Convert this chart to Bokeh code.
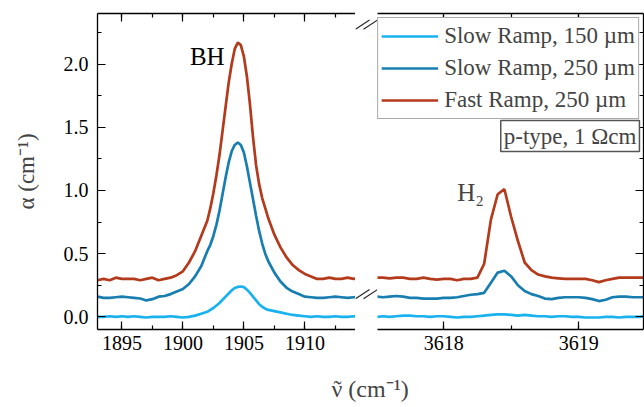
import numpy as np
from bokeh.plotting import figure
from bokeh.layouts import column, row
from bokeh.models import (Legend, LegendItem, Label, LinearAxis, SingleIntervalTicker,
                          NumeralTickFormatter, BasicTickFormatter, CustomJSTickFormatter, Range1d)
from bokeh.embed import file_html
from bokeh.resources import INLINE

FONT = "Liberation Serif"
C_LB = "#1ab2ee"
C_MB = "#187eb0"
C_RD = "#b33a1b"

# ---------------- data ----------------
series_names = ["Slow Ramp, 150 \u00b5m", "Slow Ramp, 250 \u00b5m", "Fast Ramp, 250 \u00b5m"]

bh_x = [1893.0, 1893.5, 1894.0, 1894.5, 1895.0, 1895.5, 1896.0, 1896.5, 1897.0, 1897.5,
        1898.0, 1898.5, 1899.0, 1899.5, 1900.0, 1900.5, 1901.0, 1901.5,
        1902.0, 1902.25, 1902.5, 1902.75, 1903.0, 1903.25, 1903.5, 1903.75, 1904.0, 1904.25,
        1904.5, 1904.75, 1905.0, 1905.25, 1905.5, 1905.75, 1906.0, 1906.25, 1906.5, 1906.75,
        1907.0, 1907.5, 1908.0, 1908.5, 1909.0, 1909.5, 1910.0, 1910.5, 1911.0, 1911.5,
        1912.0, 1912.5, 1913.0, 1913.5, 1914.0, 1914.5, 1915.0]
bh_slow150 = [0.0, 0.0, 0.005, 0.0, 0.005, 0.0, 0.005, 0.0, -0.005, 0.0,
              0.0, 0.0, 0.005, 0.0, -0.005, 0.0, 0.01, 0.025,
              0.04, 0.055, 0.07, 0.09, 0.11, 0.135, 0.16, 0.185, 0.21, 0.228,
              0.237, 0.24, 0.235, 0.215, 0.19, 0.16, 0.13, 0.10, 0.08, 0.065,
              0.055, 0.045, 0.035, 0.025, 0.015, 0.01, 0.005, 0.0, 0.005, 0.0,
              0.0, 0.005, 0.0, 0.0, 0.005, 0.0, 0.0]
bh_slow250 = [0.16, 0.15, 0.15, 0.155, 0.16, 0.155, 0.15, 0.145, 0.13, 0.14,
              0.16, 0.165, 0.18, 0.20, 0.22, 0.26, 0.32, 0.40,
              0.52, 0.57, 0.64, 0.73, 0.84, 0.97, 1.10, 1.22, 1.31, 1.36,
              1.38, 1.36, 1.30, 1.19, 1.06, 0.93, 0.80, 0.68, 0.58, 0.50,
              0.44, 0.35, 0.28, 0.23, 0.20, 0.18, 0.16, 0.155, 0.15, 0.15,
              0.155, 0.16, 0.155, 0.15, 0.155, 0.16, 0.155]
bh_fast250 = [0.29, 0.30, 0.29, 0.31, 0.30, 0.30, 0.30, 0.29, 0.30, 0.31,
              0.29, 0.30, 0.31, 0.33, 0.36, 0.43, 0.52, 0.64,
              0.76, 0.86, 0.98, 1.12, 1.28, 1.47, 1.66, 1.85, 2.00, 2.12,
              2.17, 2.15, 2.06, 1.90, 1.68, 1.42, 1.20, 1.05, 0.94, 0.86,
              0.78, 0.65, 0.55, 0.47, 0.41, 0.37, 0.34, 0.32, 0.30, 0.30,
              0.31, 0.30, 0.30, 0.31, 0.30, 0.31, 0.30]

h2_x = np.round(np.arange(3617.50, 3619.501, 0.05), 3)
h2_slow150 = [0.0, 0.005, 0.0, 0.005, 0.01, 0.01, 0.005, 0.005, 0.0, 0.005, 0.005, 0.0, -0.005,
              0.0, 0.0, 0.005, 0.01, 0.015, 0.02, 0.02, 0.015, 0.01, 0.015, 0.01, 0.005, 0.005,
              0.0, 0.005, 0.005, 0.0, 0.0, -0.005, -0.005, -0.005, 0.0, 0.0, -0.005, 0.0, 0.0,
              0.0, 0.005]
h2_slow250 = [0.16, 0.155, 0.16, 0.165, 0.16, 0.15, 0.15, 0.145, 0.145, 0.145, 0.15, 0.15, 0.155,
              0.165, 0.175, 0.18, 0.19, 0.27, 0.35, 0.365, 0.32, 0.25, 0.205, 0.18, 0.165, 0.145,
              0.14, 0.15, 0.155, 0.155, 0.155, 0.15, 0.14, 0.125, 0.135, 0.155, 0.16, 0.16,
              0.155, 0.155, 0.155]
h2_fast250 = [0.31, 0.31, 0.305, 0.31, 0.31, 0.30, 0.30, 0.31, 0.30, 0.295, 0.30, 0.30, 0.29,
              0.30, 0.30, 0.31, 0.42, 0.77, 0.97, 1.01, 0.79, 0.60, 0.43, 0.37, 0.335, 0.32, 0.31,
              0.305, 0.30, 0.30, 0.30, 0.30, 0.29, 0.275, 0.29, 0.30, 0.31, 0.31, 0.31, 0.31, 0.31]

y_label = "\u03b1 (cm\u207b\u00b9)"
x_label = "\u03bd (cm\u207b\u00b9)"
colors = [C_LB, C_MB, C_RD]

blank_fmt = CustomJSTickFormatter(code="return '';")


def style_axis(ax, labels=True):
    ax.axis_line_color = "black"
    ax.axis_line_width = 1.3
    ax.major_tick_in = 8
    ax.major_tick_out = 0
    ax.minor_tick_in = 4
    ax.minor_tick_out = 0
    ax.major_tick_line_color = "black"
    ax.minor_tick_line_color = "black"
    ax.major_tick_line_width = 1.2
    ax.minor_tick_line_width = 1.2
    ax.major_label_text_font = FONT
    ax.major_label_text_color = "black"
    if labels:
        ax.major_label_text_font_size = "20px"
        ax.major_label_standoff = 6
    else:
        ax.formatter = blank_fmt
        ax.major_label_text_font_size = "1px"
        ax.major_label_standoff = 0


y_range = Range1d(-0.1, 2.4)
H_TOP = 371

# ---------------- left panel (BH) ----------------
p1 = figure(width=355, height=H_TOP, x_range=Range1d(1893, 1914.15), y_range=y_range,
            output_backend="svg", toolbar_location=None,
            x_axis_location=None, y_axis_location=None,
            min_border_left=97, min_border_right=0, min_border_top=13, min_border_bottom=42)
p1.outline_line_color = None

ax = LinearAxis(ticker=SingleIntervalTicker(interval=0.5, num_minor_ticks=2),
                formatter=NumeralTickFormatter(format="0.0"))
style_axis(ax)
ax.major_label_standoff = 9
ax.axis_label = y_label
ax.axis_label_text_font = FONT
ax.axis_label_text_font_style = "normal"
ax.axis_label_text_font_size = "23px"
ax.axis_label_standoff = 22
p1.add_layout(ax, "left")

a = LinearAxis(ticker=SingleIntervalTicker(interval=5, num_minor_ticks=2),
               formatter=BasicTickFormatter(use_scientific=False))
style_axis(a, True)
p1.add_layout(a, "below")
a = LinearAxis(ticker=SingleIntervalTicker(interval=5, num_minor_ticks=2))
style_axis(a, False)
p1.add_layout(a, "above")

for ys, c in zip([bh_slow150, bh_slow250, bh_fast250], colors):
    p1.line(bh_x, ys, line_color=c, line_width=2.7)

p1.add_layout(Label(x=1902.0, y=2.06, text="BH", text_font=FONT, text_font_size="25px",
                    text_align="center", text_baseline="middle", text_color="black"))

# ---------------- gap with axis-break marks ----------------
pm = figure(width=22, height=H_TOP, x_range=Range1d(355, 377), y_range=Range1d(H_TOP, 0),
            x_axis_type=None, y_axis_type=None, output_backend="svg", toolbar_location=None,
            min_border=0)
pm.outline_line_color = None
pm.grid.visible = False
brk_cx = [362.0, 370.0, 362.0, 370.0]
brk_cy = [13.0, 13.0, 329.5, 329.5]
pm.segment(x0=[c - 7.0 for c in brk_cx], y0=[c + 5.4 for c in brk_cy],
           x1=[c + 7.0 for c in brk_cx], y1=[c - 5.4 for c in brk_cy],
           line_color="#222222", line_width=1.1)

# ---------------- right panel (H2) ----------------
p2 = figure(width=267, height=H_TOP, x_range=Range1d(3617.51, 3619.48), y_range=y_range,
            output_backend="svg", toolbar_location=None,
            x_axis_location=None, y_axis_location=None,
            min_border_left=0, min_border_right=1, min_border_top=13, min_border_bottom=42)
p2.outline_line_color = None

ar = LinearAxis(ticker=SingleIntervalTicker(interval=0.5, num_minor_ticks=2))
style_axis(ar, False)
p2.add_layout(ar, "right")
a = LinearAxis(ticker=SingleIntervalTicker(interval=1, num_minor_ticks=2),
               formatter=BasicTickFormatter(use_scientific=False))
style_axis(a, True)
p2.add_layout(a, "below")
a = LinearAxis(ticker=SingleIntervalTicker(interval=1, num_minor_ticks=2))
style_axis(a, False)
p2.add_layout(a, "above")

rends = []
for ys, c in zip([h2_slow150, h2_slow250, h2_fast250], colors):
    rends.append(p2.line(h2_x, ys, line_color=c, line_width=2.7))

legend = Legend(items=[LegendItem(label=n, renderers=[r]) for n, r in zip(series_names, rends)],
                location="top_right")
legend.margin = 4
legend.padding = 3
legend.spacing = 2
legend.glyph_width = 57
legend.glyph_height = 30
legend.label_height = 30
legend.label_standoff = 6
legend.label_text_font = FONT
legend.label_text_font_size = "23px"
legend.border_line_color = "#555555"
legend.border_line_width = 1.5
legend.background_fill_alpha = 1.0
p2.add_layout(legend)

p2.add_layout(Label(x=3619.45, y=1.43, text="p-type, 1 \u03a9cm", text_font=FONT,
                    text_font_size="23px", text_align="right", text_baseline="middle",
                    border_line_color="#555555", border_line_width=1.5,
                    background_fill_color="white", padding=3))
p2.add_layout(Label(x=3618.2, y=0.98, text="H\u2082", text_font=FONT, text_font_size="25px",
                    text_align="center", text_baseline="middle"))

for p in (p1, p2):
    p.grid.visible = False

# ---------------- x-axis title ----------------
p3 = figure(width=644, height=36, x_range=Range1d(0, 644), y_range=Range1d(0, 36),
            x_axis_type=None, y_axis_type=None, output_backend="svg", toolbar_location=None,
            min_border=0)
p3.outline_line_color = None
p3.grid.visible = False
p3.add_layout(Label(x=331, y=19, text=x_label, text_font=FONT, text_font_size="24px",
                    text_align="left", text_baseline="middle"))
p3.add_layout(Label(x=337, y=19, text="\u02dc", text_font=FONT, text_font_size="24px",
                    text_align="center", text_baseline="middle"))

layout = column(row(p1, pm, p2), p3)
open("out.html", "w").write(file_html(layout, INLINE))
